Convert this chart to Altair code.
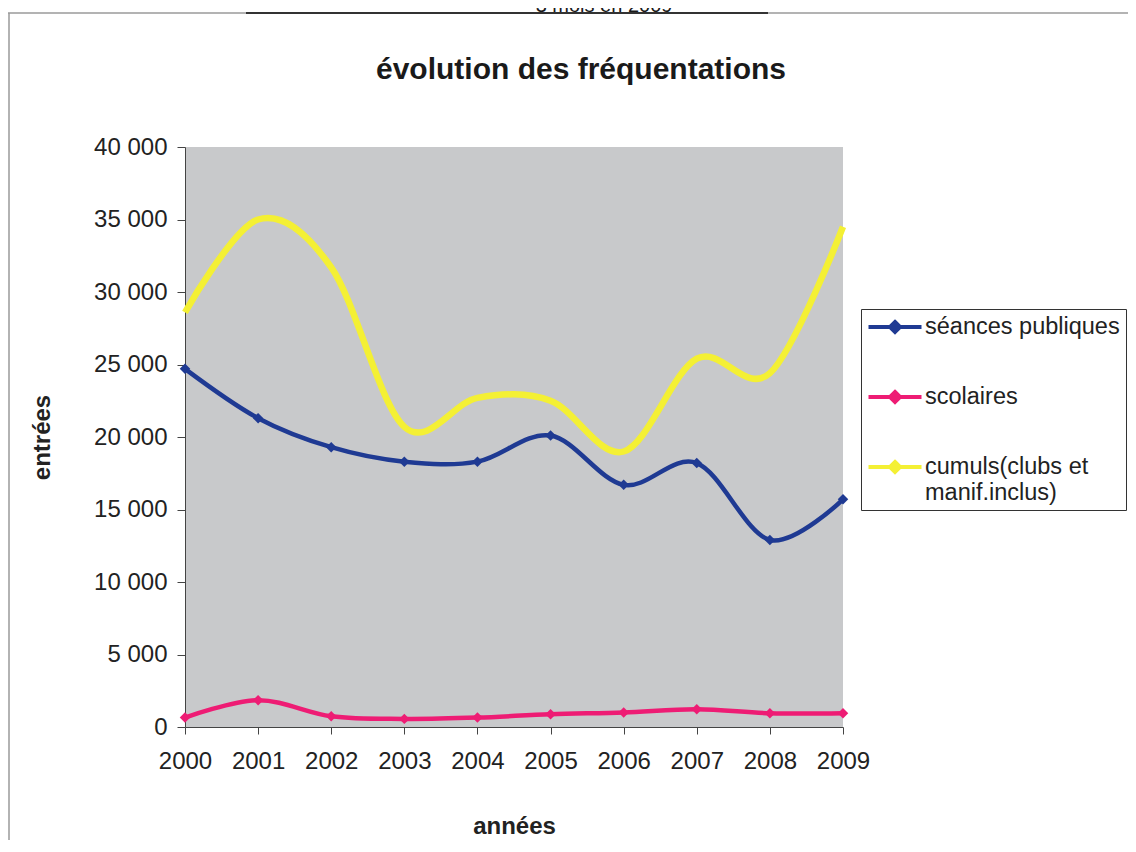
import altair as alt
import pandas as pd

years = [2000, 2001, 2002, 2003, 2004, 2005, 2006, 2007, 2008, 2009]
seances = [24700, 21300, 19300, 18300, 18300, 20100, 16700, 18200, 12900, 15700]
scolaires = [650, 1850, 740, 560, 650, 880, 1000, 1230, 950, 950]
cumuls = [28600, 35000, 31700, 20700, 22700, 22500, 19000, 25400, 24400, 34500]

series_names = ["séances publiques", "scolaires", "cumuls(clubs et manif.inclus)"]
series_colors = ["#1f3a93", "#ee1c74", "#f4f034"]
y_ticks = [0, 5000, 10000, 15000, 20000, 25000, 30000, 35000, 40000]

TITLE = "évolution des fréquentations"
TOP_TEXT = "3 mois en 2009"
X_TITLE = "années"
Y_TITLE = "entrées"

rows = []
for name, vals in zip(series_names, [seances, scolaires, cumuls]):
    for yr, v in zip(years, vals):
        rows.append({"year": str(yr), "series": name, "value": v})
df = pd.DataFrame(rows)

FONT = "Liberation Sans"
W, H = 658, 580

x_enc = alt.X(
    "year:O",
    scale=alt.Scale(padding=0),
    axis=alt.Axis(
        title=X_TITLE,
        labelAngle=0,
        labelFontSize=24,
        labelColor="#222222",
        labelPadding=15,
        tickSize=7,
        tickColor="#444444",
        domainColor="#444444",
        titleFontSize=24,
        titleFontWeight="bold",
        titleColor="#222222",
        titleBaseline="middle",
        titleY=99,
        grid=False,
    ),
)
y_enc = alt.Y(
    "value:Q",
    scale=alt.Scale(domain=[0, 40000], nice=False),
    axis=alt.Axis(
        title=Y_TITLE,
        values=y_ticks,
        labelExpr="replace(format(datum.value, ','), ',', ' ')",
        labelFontSize=24,
        labelColor="#222222",
        labelPadding=10,
        tickSize=8,
        tickColor="#444444",
        domainColor="#444444",
        titleFontSize=24,
        titleFontWeight="bold",
        titleColor="#222222",
        titleBaseline="middle",
        titleX=-143,
        titleY=H / 2,
        grid=False,
    ),
)
color_scale = alt.Scale(domain=series_names, range=series_colors)

base = alt.Chart(df)

lines_thin = base.transform_filter(
    alt.datum.series != series_names[2]
).mark_line(interpolate="cardinal", tension=0, strokeWidth=4.5).encode(
    x=x_enc,
    y=y_enc,
    color=alt.Color(
        "series:N",
        scale=color_scale,
        sort=series_names,
        legend=alt.Legend(
            title=None,
            orient="none",
            legendX=676,
            legendY=162,
            strokeColor="#333333",
            fillColor="white",
            padding=6,
            labelFontSize=23.5,
            labelColor="#222222",
            labelLimit=400,
            labelExpr="datum.label == 'cumuls(clubs et manif.inclus)' ? ['cumuls(clubs et', 'manif.inclus)'] : datum.label",
            symbolType="M-2.65,0H2.65M0,-0.5L0.5,0L0,0.5L-0.5,0Z",
            symbolSize=400,
            symbolStrokeWidth=4,
            symbolOffset=16,
            labelOffset=18,
            rowPadding=44,
        ),
    ),
)

lines_thick = base.transform_filter(
    alt.datum.series == series_names[2]
).mark_line(interpolate="cardinal", tension=0, strokeWidth=6.5).encode(
    x=x_enc,
    y=y_enc,
    color=alt.Color("series:N", scale=color_scale, legend=None),
)

points = base.transform_filter(
    alt.datum.series != series_names[2]
).mark_point(shape="diamond", filled=True, size=110, opacity=1).encode(
    x=x_enc,
    y=y_enc,
    color=alt.Color("series:N", scale=color_scale, legend=None),
)

title_txt = alt.Chart(pd.DataFrame({"t": [TITLE]})).mark_text(
    font=FONT, fontSize=30, fontWeight="bold", color="#1a1a1a",
    align="center", baseline="alphabetic",
).encode(x=alt.value(396), y=alt.value(-68), text="t:N")

top_txt = alt.Chart(pd.DataFrame({"t": [TOP_TEXT]})).mark_text(
    font=FONT, fontSize=20, color="#1a1a1a",
    align="center", baseline="alphabetic",
).encode(x=alt.value(419), y=alt.value(-135), text="t:N")

frame_top = alt.Chart(pd.DataFrame({"a": [0]})).mark_rule(
    color="#9a9a9a", strokeWidth=1.5
).encode(x=alt.value(-177), x2=alt.value(951), y=alt.value(-134))

frame_top_dark = alt.Chart(pd.DataFrame({"a": [0]})).mark_rule(
    color="#333333", strokeWidth=2
).encode(x=alt.value(61), x2=alt.value(583), y=alt.value(-134))

frame_left = alt.Chart(pd.DataFrame({"a": [0]})).mark_rule(
    color="#9a9a9a", strokeWidth=1.5
).encode(x=alt.value(-176), y=alt.value(-134), y2=alt.value(720))

chart = alt.layer(
    frame_top, frame_top_dark, frame_left, lines_thick, lines_thin, points,
    title_txt, top_txt
).resolve_legend(
    color="independent"
).properties(
    width=W,
    height=H,
    autosize=alt.AutoSizeParams(type="none"),
    padding={"left": 177, "top": 139, "right": 285, "bottom": 113},
).configure(
    font=FONT,
).configure_view(
    fill="#c8c9cb",
    strokeWidth=0,
)

chart.save("out.html", embed_options={"renderer": "svg", "actions": False})
